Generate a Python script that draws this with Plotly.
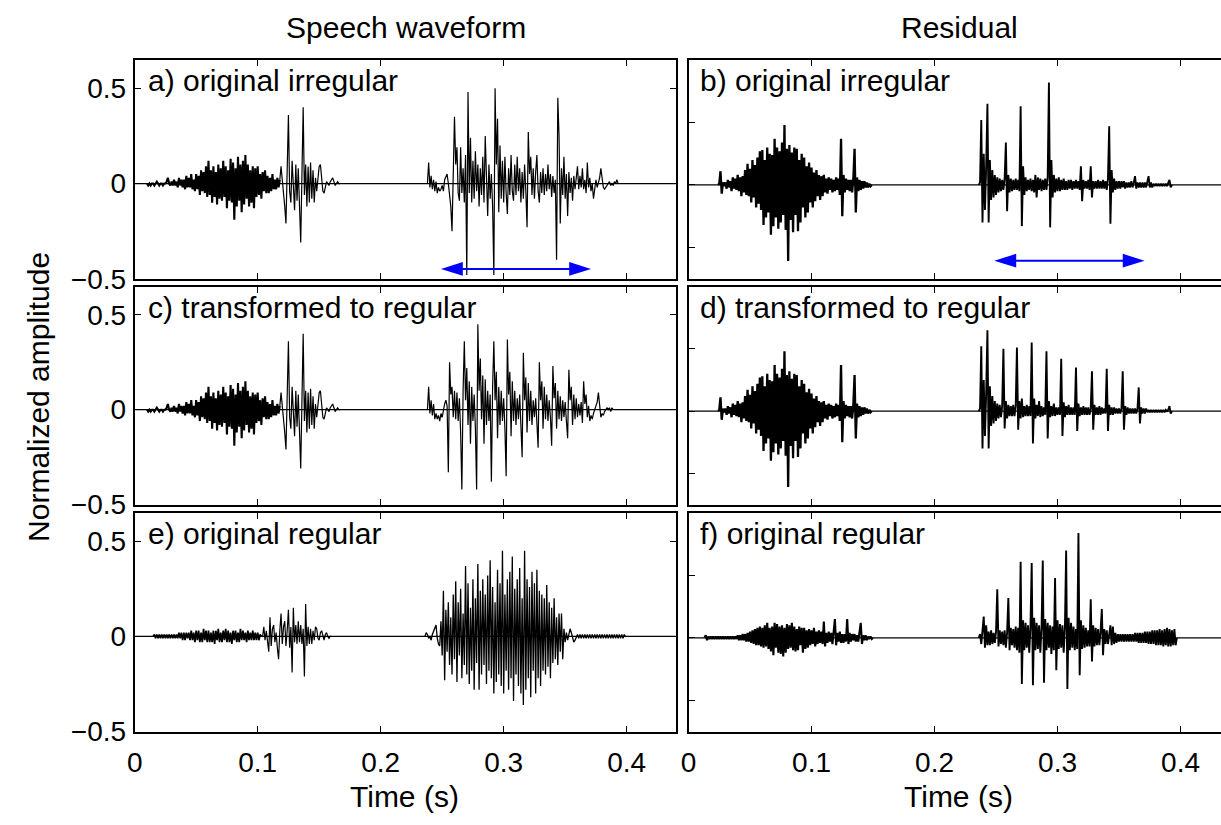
import numpy as np
import plotly.graph_objects as go

# ---------------- data (time in ms, amplitude in hundredths) ----------------
# speech waveform, fricative part (identical in a and c)
SPEECH_FRIC_T0 = 10
SPEECH_FRIC = [
    0, -1, 0, -1, 0, 0, -1, 0, 1, 0, -1, 0, 0, -1, 0, 0, 1, 3,
    0, -1,
    1, -1, 2, -1, 1, -2, 3, -1, 2, -2,
    2, -3, 4, -2, 3, -2, 5, -3, 2, -4,
    5, -3, 4, -6, 7, -4, 6, -5, 9, -7,
    12, -6, 7, -10, 9, -7, 6, -11, 10, -8,
    8, -9, 12, -7, 9, -13, 7, -9, 13, -10,
    11, -19, 8, -12, 14, -9, 10, -15, 12, -11,
    15, -8, 10, -12, 7, -10, 9, -13, 8, -7,
    9, -6, 5, -8, 6, -4, 7, -5, 4, -5,
    3, -4, 5, -3, 2, -3, 3, -2, 2]
# speech waveform, burst after the fricative (identical in a and c)
SPEECH_BURST_T0 = 118
SPEECH_BURST = [
    2, 9, 2, -8, -12, -21, 15, 36, -4, -10, 12,
    -5, -14, 10, -9, 8, -12, -31, 5, 40, -6,
    10, -12, 9, -10, 11, -8, 7, -10, 3, -4,
    5, 9, 10, 2, -4, -5, -2, 1, 0, -1,
    1, 2, 3, 1, -1, 0, 1, 0, 0]

# a) original irregular, voiced part
A_VOICED_T0 = 238
A_VOICED = [
    0, 11, -2, 4, -3, 2, -4, 1, -5, -2,
    -4, -3, -1, -4, 2, 4, 5, 0, -6, -12,
    -25, 5, 35, 10, 19, -5, -9, 19, -5, 8,
    -10, 15, -48, 48, -5, 24, -10, 12, -8, 17,
    -4, 10, -12, 8, -6, 14, -10, 25, -5, -17,
    10, -8, 5, -12, -48, 50, 10, 34, -15, 20,
    -8, 12, -10, 14, -5, -16, 8, -6, 15, -4,
    -9, 10, -6, 14, -4, 8, -10, 6, -8, 10,
    -4, -23, 27, 5, 14, -6, 8, -8, 6, 15,
    -4, -10, 6, -5, 8, -6, 5, -4, 10, -3,
    5, -7, 4, -5, 2, -40, 45, 25, -21, 8,
    -6, 14, -8, 5, -17, 6, -5, 3, -9, 4,
    -3, 2, 9, -3, 4, -2, 8, -3, 2, -5,
    11, -2, 3, -4, 0, -8, -3, 2, -2, 1,
    3, 8, 3, -2, -3, -2, -1, 0, 1, -1,
    0, -1, 1, 0, 2, 0]

# c) transformed to regular, voiced part
C_VOICED_T0 = 238
C_VOICED = [
    0, 12, -2, 5, -3, 3, -5, -2, -5, -3,
    -6, -2, -4, 1, 3, 5, 2, -33, 25, 8,
    12, -4, 10, -5, 9, -6, 6, -12, -42, 10,
    36, 5, 22, -8, 15, -18, 12, -6, 8, -10,
    -42, 45, 10, 27, -5, 18, -18, 16, -8, 10,
    -6, 8, -38, 12, 36, 5, 20, -15, 12, -8,
    10, -6, 6, -10, -35, 37, 8, 20, -14, 15,
    -6, 10, -8, 6, -5, 8, -10, -25, 30, 5,
    17, -12, 14, -6, 10, -8, 5, -4, 6, -8,
    -20, 25, 5, 15, -10, 12, -5, 8, -6, 5,
    -4, -19, 23, 6, 14, -10, 10, -5, 7, -6,
    5, -4, 4, -6, -15, 21, 5, 12, -8, 8,
    -5, 6, -4, 3, -3, 4, -7, 15, 3, 8,
    -4, 2, -6, -3, -5, -2, 0, 2, 4, 9,
    3, -4, -2, -3, -1, 0, 1, 0, 1, -1,
    1, 0]

# e) original regular
E_FRIC_T0 = 15
E_FRIC = [
    0, 1, -1, 1, -1, 1, -1, 1, -1, 1, -1, 1, -1, 1, -1, 1, -1, 1, -1, 1, -1, 2, -1, 2, -2,
    2, -2, 2, -1, 2, -2, 3, -2, 2, -3,
    3, -2, 3, -3, 2, -3, 4, -2, 3, -3,
    3, -3, 2, -3, 3, -4, 3, -2, 4, -3,
    2, -3, 3, -2, 4, -3, 3, -3, 2, -4,
    3, -2, 3, -3, 2, -3, 4, -2, 3, -2,
    2, -3, 3, -2, 2, -2, 3, -2, 2, -2,
    2, -2, 1, 0]
E_BURST_T0 = 103
E_BURST = [
    0, 0, 5, -2, 3, -4, -8, 10, -5, 4, 6,
    -3, 2, -6, -12, 3, 12, -4, 5, 8, -5,
    3, 14, -6, 5, -19, 15, -3, 6, -4, 8,
    -3, 6, -4, 4, -21, 17, -5, 5, -4, 4,
    -4, 3, -2, 5, 4, -1, -2, 2, 3, 0,
    -2, 1, 2, 0, -1, 0, 0]
E_VOICED_T0 = 236
E_VOICED = [
    0, 2, 1, -1, 0, -2, 1, 3, 5, 6,
    -1, -4, -5, 8, -10, 24, -23, 14, -8, 18,
    -15, 10, -20, 22, -12, 29, -24, 18, -10, 25,
    -22, 12, -15, 37, -20, 28, -25, 15, -18, 30,
    -28, 20, -14, 38, -28, 24, -20, 30, -15, 22,
    -25, 32, -18, 40, -22, 26, -30, 18, -24, 35,
    -20, 28, -26, 45, -30, 22, -18, 30, -28, 34,
    -22, 42, -34, 25, -20, 30, -26, 36, -30, 20,
    -36, 45, -28, 30, -22, 26, -32, 34, -18, 28,
    -30, 35, -22, 24, -26, 22, -18, 20, -20, 27,
    -16, 18, -22, 15, -14, 20, -12, 10, -15, 12,
    -8, 12, -12, 4, -3, 2, -2, 1, 4, 2,
    -1, -3, -2, 0, 1, -1, 1, -1, 1, -1,
    1, -1, 1, -1, 1, -1, 1, -1, 1, -1,
    1, -1, 1, -1, 1, -1, 1, -1, 1, -1,
    1, -1, 1, -1, 1, -1, 1, -1, 1, -1,
    1, -1, 1, 0]

# residual: unvoiced part (identical in b and d)
RES_UNV_T0 = 24
RES_UNV = [
    0, 1, 11, -7, 2, -1,
    2, -3, 4, -2, 3, -5, 6, -3, 5, -4,
    8, -5, 6, -9, 7, -6, 12, -8, 17, -9,
    13, -14, 20, -10, 16, -18, 22, -15, 27, -20,
    28, -32, 20, -26, 30, -22, 25, -40, 24, -33,
    37, -26, 30, -35, 27, -30, 34, -24, 48, -36,
    29, -61, 32, -28, 26, -38, 30, -24, 29, -37,
    20, -30, 25, -18, 22, -26, 15, -22, 18, -14,
    14, -18, 10, -13, 12, -9, 8, -12, 7, -9,
    8, -6, 5, -7, 6, -4, 5, -6, 4, -5,
    6, -4, 5, -8, 37, -25, 8, -6, 5, -4,
    4, -5, 4, -6, 5, 29, -22, 6, -5, 4,
    -4, 3, -3, 3, -2, 2, -2, 1, -1, 0]

# b) residual, original irregular
B_VOICED_T0 = 236
B_VOICED = [
    0, 2, 52, -30, 25, -20, 15, 65, -30, 20,
    -12, 12, -10, 8, -8, 6, -6, 5, -5, 4,
    -4, 5, 34, -21, 8, -6, 5, -5, 4, -4,
    5, -4, 4, -5, 63, -33, 15, -8, 6, -5,
    4, -4, 5, -5, 4, -6, 8, -10, 6, -4,
    5, -5, 4, -4, 5, -4, 6, 82, -34, 20,
    -10, 8, -6, 5, -5, 6, -5, 4, -4, 5,
    -4, 3, -4, 4, -3, 4, -4, 3, -3, 4,
    -3, 3, -4, 15, -13, 4, -3, 3, -3, 4,
    -4, 15, -10, 3, -3, 3, -3, 4, -3, 3,
    -3, 4, -3, 3, -4, 5, 47, -31, 12, -6,
    5, -4, 3, -3, 3, -3, 3, -2, 3, -3,
    2, -2, 2, -2, 3, -2, 2, 7, -3, 2,
    -2, 2, -2, 2, -2, 2, -2, 2, 7, -2,
    2, -2, 1, -1, 1, -1, 1, -1, 1, -1,
    1, -1, 1, -1, 1, 4, -2, 0]

# d) residual, transformed to regular
D_VOICED_T0 = 236
D_VOICED = [
    0, 2, 52, -30, 25, -20, 15, 65, -30, 20,
    -12, 12, -10, 8, -8, 6, -6, 5, -5, 4,
    50, -14, 8, -6, 5, -4, 4, -4, 5, -4,
    4, 51, -15, 8, -6, 10, -5, 4, -4, 5,
    -4, 4, -4, 55, -26, 10, -6, 5, -4, 8,
    -5, 4, -4, 3, -3, 48, -22, 8, -5, 4,
    -4, 6, -4, 3, -3, 3, -3, 42, -20, 7,
    -5, 4, -3, 5, -3, 3, -3, 3, -3, 35,
    -16, 6, -4, 3, -3, 4, -3, 3, -3, 3,
    -3, 2, 32, -15, 5, -3, 3, -3, 4, -3,
    3, -2, 2, -2, 34, -16, 5, -3, 3, -3,
    3, -2, 2, -2, 2, -2, 2, 32, -15, 4,
    -3, 3, -2, 2, -2, 2, -2, 2, -2, 2,
    19, -10, 3, -2, 2, -2, 2, -1, 1, -1,
    1, -1, 1, -1, 1, -1, 1, -1, 1, -1,
    1, -1, 1, 0, 1, 4, -2, 0]

# f) residual, original regular
F_UNV_T0 = 13
F_UNV = [
    0, 2, -2, 1, -1, 1, -1, 1, -1, 1, -1, 1, -1, 1, -1, 1, -1,
    1, -1, 1, -1, 1, -1, 1, -1, 1, -1,
    2, -2, 2, -2, 3, -2, 3, -3, 4, -3,
    5, -4, 6, -5, 7, -6, 8, -6, 9, -7,
    8, -8, 10, -7, 12, -9, 8, -11, 9, -14,
    12, -8, 11, -12, 9, -13, 10, -15, 8, -12,
    11, -9, 10, -8, 12, -10, 9, -11, 7, -10,
    9, -6, 8, -12, 8, -9, 6, -8, 7, -6,
    6, -5, 8, -7, 5, -5, 6, -4, 5, -5,
    13, -7, 4, -4, 5, -3, 4, -5, 4, 15,
    -6, 4, -3, 5, -4, 3, -4, 3, -3, 15,
    -5, 4, -3, 3, -2, 3, -3, 2, -3, 3,
    12, -5, 2, -2, 2, -2, 1, -1, 1, -1, 0]
F_VOICED_T0 = 236
F_VOICED = [
    0, 3, -5, 6, 17, -8, 10, -6, 5, -6,
    6, -5, 4, -4, 5, 39, -7, 6, -5, 5,
    -6, 6, -8, 4, 32, -10, 8, -6, 7, -8,
    9, -10, 8, -12, 61, -37, 14, -10, 12, -8,
    10, -12, 9, 60, -38, 16, -10, 12, -9, 10,
    -12, 8, 62, -36, 15, -10, 12, -8, 10, -13,
    9, -10, 48, -26, 14, -9, 11, -8, 10, -12,
    8, 70, -41, 16, -10, 12, -8, 9, -10, 7,
    -9, 84, -30, 14, -9, 10, -8, 8, -7, 6,
    -7, 31, -19, 10, -7, 8, -6, 7, -6, 5,
    23, -14, 7, -5, 6, -5, 5, 10, -6, 9,
    -5, 4, -4, 3, -3, 3, -3, 3, -3, 3,
    -3, 3, -3, 3, -3, 3, -3, 4, -3, 4,
    -4, 4, -4, 4, -4, 5, -4, 5, -5, 5,
    -5, 6, -5, 6, -6, 6, -6, 7, -6, 6,
    -7, 7, -6, 8, -7, 7, -7, 6, -6, 7,
    -6, 0]

# blue arrows (seconds, amplitude)
ARROW_A_X = [0.249, 0.371]
ARROW_A_Y = -0.448
ARROW_B_X = [0.2486, 0.3708]
ARROW_B_Y = -0.607

COL_TITLES = ["Speech waveform", "Residual"]
PANEL_LABELS = ["a) original irregular", "b) original irregular",
                "c) transformed to regular", "d) transformed to regular",
                "e) original regular", "f) original regular"]
X_TICKS = [0, 0.1, 0.2, 0.3, 0.4]
X_TICK_TEXT = ["0", "0.1", "0.2", "0.3", "0.4"]
Y_TICKS = [-0.5, 0, 0.5]
Y_TICK_TEXT = ["\u22120.5", "0", "0.5"]

# ---------------- layout geometry ----------------
W, H = 1221, 825
FONT = "Liberation Sans, Arial, Helvetica, sans-serif"
FS = 30
FS_TICK = 28
LEFT_PX = (127.5, 672.3)
RIGHT_PX = (685.0, W)
ROW_PX = [(61.3, 284.3), (292.3, 514.6), (523.3, 746.0)]
LEFT_XRANGE = [0, 0.44]
RIGHT_XRANGE = [0, 0.44 * (RIGHT_PX[1] - RIGHT_PX[0]) / (LEFT_PX[1] - LEFT_PX[0])]
LEFT_YRANGE = [-0.5, 0.648]
RIGHT_YRANGE = [-0.752, 1.0]

# segments per panel: (start ms, values, line width)
PANELS = [
    [(SPEECH_FRIC_T0, SPEECH_FRIC, 2.1), (SPEECH_BURST_T0, SPEECH_BURST, 1.2),
     (A_VOICED_T0, A_VOICED, 1.2)],
    [(RES_UNV_T0, RES_UNV, 2.3), (B_VOICED_T0, B_VOICED, 1.9)],
    [(SPEECH_FRIC_T0, SPEECH_FRIC, 2.1), (SPEECH_BURST_T0, SPEECH_BURST, 1.2),
     (C_VOICED_T0, C_VOICED, 1.2)],
    [(RES_UNV_T0, RES_UNV, 2.3), (D_VOICED_T0, D_VOICED, 1.9)],
    [(E_FRIC_T0, E_FRIC, 1.7), (E_BURST_T0, E_BURST, 1.2), (E_VOICED_T0, E_VOICED, 1.3)],
    [(F_UNV_T0, F_UNV, 2.1), (F_VOICED_T0, F_VOICED, 1.9)],
]

fig = go.Figure()
layout = dict(width=W, height=H, margin=dict(l=0, r=0, t=0, b=0),
              paper_bgcolor="white", plot_bgcolor="white", showlegend=False,
              font=dict(family=FONT, size=FS, color="black"))

for i in range(6):
    row, col = divmod(i, 2)
    k = i + 1
    xr = LEFT_XRANGE if col == 0 else RIGHT_XRANGE
    # silent baseline
    fig.add_trace(go.Scatter(x=[0, xr[1]], y=[0, 0], mode="lines",
                             line=dict(color="black", width=1.2),
                             xaxis=f"x{k}", yaxis=f"y{k}", hoverinfo="skip"))
    for t0, vals, lw in PANELS[i]:
        t = (t0 + np.arange(len(vals))) / 1000.0
        v = np.array(vals, dtype=float) / 100.0
        fig.add_trace(go.Scatter(x=t, y=v, mode="lines",
                                 line=dict(color="black", width=lw),
                                 xaxis=f"x{k}", yaxis=f"y{k}", hoverinfo="skip"))
    xpx = LEFT_PX if col == 0 else RIGHT_PX
    top, bot = ROW_PX[row]
    xdom = [xpx[0] / W, min(1.0, xpx[1] / W)]
    ydom = [1 - bot / H, 1 - top / H]
    common = dict(showline=True, linecolor="black", linewidth=2,
                  ticks="inside", ticklen=6, tickwidth=1.2, tickcolor="black",
                  showgrid=False, zeroline=False,
                  tickfont=dict(family=FONT, size=FS_TICK, color="black"))
    layout[f"xaxis{k}"] = dict(common, domain=xdom, anchor=f"y{k}", range=xr,
                               tickvals=X_TICKS, ticktext=X_TICK_TEXT,
                               showticklabels=(row == 2), mirror="ticks",
                               ticklabelstandoff=5)
    layout[f"yaxis{k}"] = dict(common, domain=ydom, anchor=f"x{k}",
                               range=LEFT_YRANGE if col == 0 else RIGHT_YRANGE,
                               tickvals=Y_TICKS, ticktext=Y_TICK_TEXT,
                               showticklabels=(col == 0),
                               mirror="ticks" if col == 0 else False,
                               ticklabelstandoff=1)

fig.update_layout(**layout)

# blue arrows drawn as shapes in data coordinates
BLUE = "#0000ff"
HEAD_LEN_PX, HEAD_HALF_PX = 22, 7
for k, ax_x, ay, col in [(1, ARROW_A_X, ARROW_A_Y, 0), (2, ARROW_B_X, ARROW_B_Y, 1)]:
    xpx = LEFT_PX if col == 0 else RIGHT_PX
    xr = LEFT_XRANGE if col == 0 else RIGHT_XRANGE
    yr = LEFT_YRANGE if col == 0 else RIGHT_YRANGE
    top, bot = ROW_PX[0]
    sx = (xr[1] - xr[0]) / (min(W, xpx[1]) - xpx[0])
    sy = (yr[1] - yr[0]) / (bot - top)
    hl = HEAD_LEN_PX * sx
    hh = HEAD_HALF_PX * sy
    x0, x1 = ax_x
    fig.add_shape(type="line", xref=f"x{k}", yref=f"y{k}", x0=x0 + hl * 0.5, x1=x1 - hl * 0.5,
                  y0=ay, y1=ay, line=dict(color=BLUE, width=2))
    fig.add_shape(type="path", xref=f"x{k}", yref=f"y{k}",
                  path=f"M {x0},{ay} L {x0 + hl},{ay + hh} L {x0 + hl},{ay - hh} Z",
                  fillcolor=BLUE, line=dict(color=BLUE, width=0))
    fig.add_shape(type="path", xref=f"x{k}", yref=f"y{k}",
                  path=f"M {x1},{ay} L {x1 - hl},{ay + hh} L {x1 - hl},{ay - hh} Z",
                  fillcolor=BLUE, line=dict(color=BLUE, width=0))

ann = []
ann.append(dict(text=COL_TITLES[0], x=400.5 / W, y=1 - 28 / H, xref="paper", yref="paper",
                xanchor="center", yanchor="middle", showarrow=False, font=dict(size=FS)))
ann.append(dict(text=COL_TITLES[1], x=957.5 / W, y=1 - 28 / H, xref="paper", yref="paper",
                xanchor="center", yanchor="middle", showarrow=False, font=dict(size=FS)))
for i, lab in enumerate(PANEL_LABELS):
    row, col = divmod(i, 2)
    top, _ = ROW_PX[row]
    xl = 139 if col == 0 else 695
    ann.append(dict(text=lab, x=xl / W, y=1 - (top + 21) / H, xref="paper", yref="paper",
                    xanchor="left", yanchor="middle", showarrow=False, font=dict(size=FS)))
ann.append(dict(text="Normalized amplitude", x=30 / W, y=1 - 405 / H, xref="paper", yref="paper",
                xanchor="center", yanchor="middle", textangle=-90, showarrow=False,
                font=dict(size=FS)))
ann.append(dict(text="Time (s)", x=399 / W, y=1 - 812 / H, xref="paper", yref="paper",
                xanchor="center", yanchor="middle", showarrow=False, font=dict(size=FS)))
ann.append(dict(text="Time (s)", x=957 / W, y=1 - 812 / H, xref="paper", yref="paper",
                xanchor="center", yanchor="middle", showarrow=False, font=dict(size=FS)))
fig.update_layout(annotations=ann)

fig.write_html("out.html")
